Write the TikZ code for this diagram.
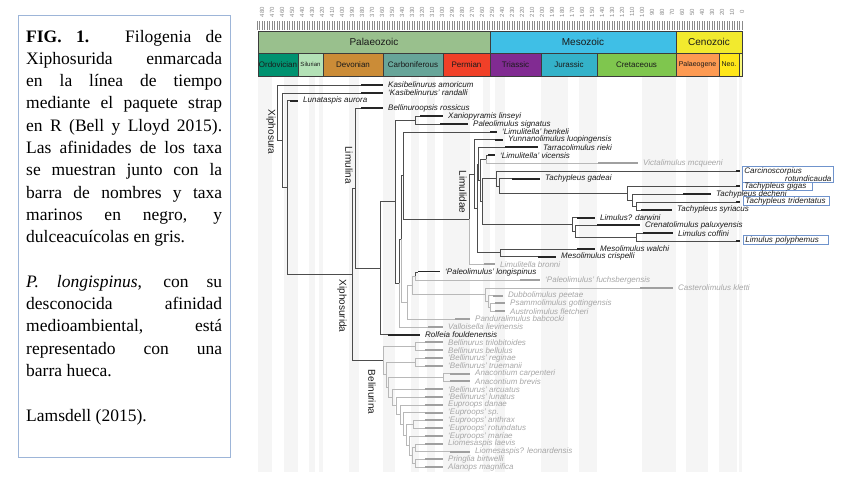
\documentclass[tikz,border=0pt]{standalone}
\usepackage{fontspec}
\setmainfont{Liberation Serif}
\setsansfont{Liberation Sans}
\usetikzlibrary{calc, positioning}

\begin{document}
\begin{tikzpicture}[
    x=1pt, y=-1pt,
    every node/.style={font=\sffamily},
    brm/.style={draw=branchdark, line width=0.6pt},
    brf/.style={draw=branchlight, line width=0.6pt},
    brh/.style={brm},
    barm/.style={draw=bardark, line width=2pt},
    barf/.style={draw=barlight, line width=2pt},
    barh/.style={draw=bardark, line width=0.5pt, double=white, double distance=1.3pt},
    lblm/.style={font=\sffamily\itshape\fontsize{8}{8}\selectfont, text=textdark, inner sep=0pt, anchor=west},
    lblf/.style={lblm, text=textlight},
    lblh/.style={lblm},
    extant/.style={lblm, draw=boxblue, line width=0.8pt, inner xsep=2pt, inner ysep=1pt, align=left},
    cladelbl/.style={font=\sffamily\fontsize{10}{10}\selectfont, text=textdark, rotate=-90, inner sep=0pt},
    band/.style={fill=bandgray},
    scaleline/.style={draw=scalegray, line width=0.5pt},
    eralbl/.style={font=\sffamily\fontsize{10}{10}\selectfont, text=textdark},
    ticklbl/.style={font=\sffamily\fontsize{6}{6}\selectfont, text=tickgray, rotate=90, inner sep=0pt},
    capframe/.style={draw=frameblue, line width=1pt, minimum width=212, minimum height=442, inner sep=0pt},
    captext/.style={font=\rmfamily\fontsize{17.5}{22.3}\selectfont, text width=196pt, align=justify, inner sep=0pt, anchor=north west}
]

% Colors
\definecolor{branchdark}{HTML}{4D4D4D}
\definecolor{branchlight}{HTML}{B8B8B8}
\definecolor{bardark}{HTML}{262626}
\definecolor{barlight}{HTML}{A0A0A0}
\definecolor{textdark}{HTML}{1A1A1A}
\definecolor{textlight}{HTML}{A6A6A6}
\definecolor{boxblue}{HTML}{6F93CC}
\definecolor{frameblue}{HTML}{9DB5D8}
\definecolor{bandgray}{HTML}{F5F5F5}
\definecolor{scalegray}{HTML}{3C3C3C}
\definecolor{tickgray}{HTML}{8A8A8A}

\definecolor{cPal}{HTML}{99C08D}
\definecolor{cMes}{HTML}{3FBFE6}
\definecolor{cCen}{HTML}{F2EA2E}
\definecolor{cOrd}{HTML}{009270}
\definecolor{cSil}{HTML}{B3E1B6}
\definecolor{cDev}{HTML}{CB8C37}
\definecolor{cCar}{HTML}{67A599}
\definecolor{cPer}{HTML}{F04028}
\definecolor{cTri}{HTML}{812B92}
\definecolor{cJur}{HTML}{34B2C9}
\definecolor{cCre}{HTML}{7FC64E}
\definecolor{cPg}{HTML}{FD9A52}
\definecolor{cNg}{HTML}{FFE619}
\definecolor{cQ}{HTML}{F9F97F}

\useasboundingbox (0,0) rectangle (848,477);

% Caption
\node[capframe] (frame) at (124,236) {};
\node[captext] (caption) at (26,29.7) {\parindent=0pt
\textbf{FIG. 1.} Filogenia de\linebreak
Xiphosurida enmarcada\linebreak
en la línea de tiempo\linebreak
mediante el paquete strap\linebreak
en R (Bell y Lloyd 2015).\linebreak
Las afinidades de los taxa\linebreak
se muestran junto con la\linebreak
barra de nombres y taxa\linebreak
marinos en negro, y\linebreak
dulceacuícolas en gris.\par\vspace{22.3pt}
\textit{P. longispinus}, con su\linebreak
desconocida afinidad\linebreak
medioambiental, está\linebreak
representado con una\linebreak
barra hueca.\par\vspace{22.3pt}
Lamsdell (2015).};

% Epoch shading
\foreach \a/\b in {258/272, 284/298, 309/315, 319/323, 349/359, 383/395, 411/419,
    427/435, 443/470, 483/490, 495/505, 541/568, 579/597, 642/676, 686/708, 719/737, 739/742}
  \fill[band] (\a,77) rectangle (\b,472);

% Time scale
\foreach \t in {0,2.5,...,485}
  \draw[tickgray, line width=0.4pt] ({742-\t},21) -- ({742-\t},30);
\foreach \t in {0,10,...,480}
  \node[ticklbl] at ({742-\t},12) {\t};

\foreach \a/\b/\t/\c in {258/490/Palaeozoic/cPal, 490/676/Mesozoic/cMes, 676/742/Cenozoic/cCen}{
  \draw[scaleline, fill=\c] (\a,31) rectangle (\b,53);
  \node[eralbl] at ({(\a+\b)/2},42) {\t};
}
\foreach \a/\b/\t/\c/\s in {258/298/Ordovician/cOrd/8, 298/323/Silurian/cSil/6,
    323/383/Devonian/cDev/8, 383/443/Carboniferous/cCar/8, 443/490/Permian/cPer/8,
    490/541/Triassic/cTri/8, 541/597/Jurassic/cJur/8, 597/676/Cretaceous/cCre/8,
    676/719/Palaeogene/cPg/7, 719/739/Neo./cNg/7}{
  \draw[scaleline, fill=\c] (\a,53) rectangle (\b,76);
  \node[font=\sffamily\fontsize{\s}{\s}\selectfont, text=textdark] at ({(\a+\b)/2},64.5) {\t};
}
\draw[scaleline, fill=cQ] (739,53) rectangle (742,76);

% Taxa: name, row, first, last, label, kind
\def\taxon#1#2#3#4#5#6{%
  \coordinate (#1) at ({#3},{85+7.8*(#2-1)});
  \draw[bar#6] (#1) -- ({#4},{85+7.8*(#2-1)}) coordinate (#1e);
  \node[lbl#6] (#1l) at ([xshift=5pt]#1e) {#5};
}
% Clades: name, x, upper child, lower child, branch kinds
\def\clade#1#2#3#4#5#6{%
  \path ($(#3)!.5!(#4)$) coordinate (#1y) ({#2},0) coordinate (#1x);
  \coordinate (#1) at (#1x |- #1y);
  \draw[br#5] (#1) |- (#3);
  \draw[br#6] (#1) |- (#4);
}

\taxon{amor}{1}{361}{383}{Kasibelinurus amoricum}{m}
\taxon{rand}{2}{361}{383}{‘Kasibelinurus’ randalli}{m}
\taxon{luna}{3}{290}{298}{Lunataspis aurora}{m}
\taxon{bros}{4}{361}{383}{Bellinuroopsis rossicus}{m}
\taxon{xani}{5}{420}{443}{Xaniopyramis linseyi}{m}
\taxon{psig}{6}{440}{468}{Paleolimulus signatus}{m}
\taxon{lhen}{7}{490}{497}{‘Limulitella’ henkeli}{m}
\taxon{yunn}{8}{495}{503}{Yunnanolimulus luopingensis}{m}
\taxon{tarr}{9}{505}{538}{Tarracolimulus rieki}{m}
\taxon{lvic}{10}{488}{495}{‘Limulitella’ vicensis}{m}
\taxon{vict}{11}{598}{638}{Victalimulus mcqueeni}{f}
\taxon{carc}{12}{736}{740}{}{m}
\taxon{tgad}{13}{512}{540}{Tachypleus gadeai}{m}
\taxon{tgig}{14}{736}{740}{}{m}
\taxon{ttri}{16}{736}{740}{}{m}
\taxon{tsyr}{17}{641}{672}{Tachypleus syriacus}{m}
\taxon{ldar}{18}{577}{595}{Limulus? darwini}{m}
\taxon{cren}{19}{597}{640}{Crenatolimulus paluxyensis}{m}
\taxon{lcof}{20}{643}{673}{Limulus coffini}{m}
\taxon{lpol}{21}{736}{740}{}{m}
\taxon{mwal}{22}{577}{595}{Mesolimulus walchi}{m}
\taxon{mcri}{23}{538}{556}{Mesolimulus crispelli}{m}
\taxon{lbro}{24}{484}{495}{Limulitella bronni}{f}
\taxon{plon}{25}{418}{440}{‘Paleolimulus’ longispinus}{h}
\taxon{pfuc}{26}{520}{540}{‘Paleolimulus’ fuchsbergensis}{f}
\taxon{cast}{27}{640}{673}{Casterolimulus kletti}{f}
\taxon{dubb}{28}{493}{503}{Dubbolimulus peetae}{f}
\taxon{psam}{29}{495}{505}{Psammolimulus gottingensis}{f}
\taxon{aust}{30}{495}{505}{Austrolimulus fletcheri}{f}
\taxon{pand}{31}{455}{470}{Panduralimulus babcocki}{f}
\taxon{vall}{32}{428}{443}{Valloisella lievinensis}{f}
\taxon{rolf}{33}{388}{420}{Rolfeia fouldenensis}{m}
\taxon{btri}{34}{425}{443}{Bellinurus trilobitoides}{f}
\taxon{bbel}{35}{425}{443}{Bellinurus bellulus}{f}
\taxon{breg}{36}{425}{443}{‘Bellinurus’ reginae}{f}
\taxon{btru}{37}{425}{443}{‘Bellinurus’ truemanii}{f}
\taxon{acar}{38}{450}{470}{Anacontium carpenteri}{f}
\taxon{abre}{39}{450}{470}{Anacontium brevis}{f}
\taxon{barc}{40}{425}{443}{‘Bellinurus’ arcuatus}{f}
\taxon{blun}{41}{425}{443}{‘Bellinurus’ lunatus}{f}
\taxon{edan}{42}{425}{443}{Euproops danae}{f}
\taxon{esp}{43}{425}{443}{‘Euproops’ sp.}{f}
\taxon{eant}{44}{425}{443}{‘Euproops’ anthrax}{f}
\taxon{erot}{45}{425}{443}{‘Euproops’ rotundatus}{f}
\taxon{emar}{46}{425}{443}{‘Euproops’ mariae}{f}
\taxon{llae}{47}{425}{443}{Liomesaspis laevis}{f}
\taxon{lleo}{48}{450}{470}{Liomesaspis? leonardensis}{f}
\taxon{prin}{49}{425}{443}{Pringlia birtwelli}{f}
\taxon{alan}{50}{425}{443}{Alanops magnifica}{f}

% Living species in boxes
\node[extant, anchor=north west, text width=87pt] (carcl) at ([xshift=2pt,yshift=4.8pt]carce)
  {Carcinoscorpius\\\hspace*{\fill}rotundicauda};
\node[extant, inner ysep=0pt, text width=66pt] (tgigl) at ([xshift=2pt]tgige) {Tachypleus gigas};
\node[extant, text width=82pt] (ttril) at ([xshift=3pt,yshift=1pt]ttrie) {Tachypleus tridentatus};
\node[extant, text width=81pt] (lpoll) at ([xshift=3pt,yshift=1pt]lpole) {Limulus polyphemus};
\taxon{tdec}{15}{683}{711}{Tachypleus decheni}{m}

% Limulidae
\clade{nTc5}{636}{ttri}{tsyr}{m}{m}
\clade{nTc4}{632}{tdec}{nTc5}{m}{m}
\clade{nTc3}{627}{tgig}{nTc4}{m}{m}
\clade{nTc2}{499}{tgad}{nTc3}{m}{m}
\clade{nTc1}{496}{carc}{nTc2}{m}{m}
\clade{nLc}{636}{lcof}{lpol}{m}{m}
\clade{nCr}{575}{cren}{nLc}{m}{m}
\clade{nLm}{572}{ldar}{nCr}{m}{m}
\clade{nL5}{482}{nTc1}{nLm}{m}{m}
\clade{nVc}{486}{lvic}{vict}{m}{f}
\clade{nL4}{480}{nVc}{nL5}{m}{m}
\clade{nL3}{478}{tarr}{nL4}{m}{m}
\clade{nMs}{500}{mwal}{mcri}{m}{m}
\clade{nL2}{477}{nL3}{nMs}{m}{m}
\clade{nL1}{474}{yunn}{nL2}{m}{m}
\clade{nLi}{469}{nL1}{lbro}{m}{f}
\clade{nHe}{403}{lhen}{nLi}{m}{m}

% Austrolimulidae and the rest of Limulina
\clade{nPs}{490}{psam}{aust}{f}{f}
\clade{nDu}{488}{dubb}{nPs}{f}{f}
\clade{nCa}{485}{cast}{nDu}{f}{f}
\clade{nLo}{415}{plon}{pfuc}{h}{f}
\clade{nRl}{412}{nLo}{nCa}{f}{f}
\clade{nAu}{407}{nRl}{pand}{f}{f}
\clade{nLA}{401}{nHe}{nAu}{m}{f}
\clade{nVa}{399}{nLA}{vall}{m}{f}
\clade{nPa}{415}{xani}{psig}{m}{m}
\clade{nH}{395}{nPa}{nVa}{m}{m}
\clade{nG}{380}{nH}{rolf}{m}{m}
\clade{nLimulina}{355}{bros}{nG}{m}{m}

% Belinurina
\clade{nB1}{415}{btri}{bbel}{f}{f}
\clade{nB2}{415}{breg}{btru}{f}{f}
\clade{nAn}{443}{acar}{abre}{f}{f}
\clade{nPA}{415}{prin}{alan}{f}{f}
\clade{nLio}{415}{llae}{lleo}{f}{f}
\clade{nX7}{412}{nLio}{nPA}{f}{f}
\clade{nX6}{409}{emar}{nX7}{f}{f}
\clade{nRo}{413}{eant}{erot}{f}{f}
\clade{nX5}{406}{nRo}{nX6}{f}{f}
\clade{nX4}{403}{esp}{nX5}{f}{f}
\clade{nX3}{400}{edan}{nX4}{f}{f}
\clade{nX2}{396}{blun}{nX3}{f}{f}
\clade{nX1}{392}{barc}{nX2}{f}{f}
\clade{nR2}{388}{nAn}{nX1}{f}{f}
\clade{nRest}{386}{nB2}{nR2}{f}{f}
\clade{nBel}{383}{nB1}{nRest}{f}{f}

% Root
\clade{nXida}{352}{nLimulina}{nBel}{m}{m}
\clade{nC}{287}{luna}{nXida}{m}{m}
\clade{nB}{282}{rand}{nC}{m}{m}
\clade{nA}{277}{amor}{nB}{m}{m}

% Clade names
\node[cladelbl] (xiphosura) at (271,132) {Xiphosura};
\node[cladelbl] (limulina) at (349,165) {Limulina};
\node[cladelbl] (limulidae) at (463,192) {Limulidae};
\node[cladelbl] (xiphosurida) at (342,306) {Xiphosurida};
\node[cladelbl] (belinurina) at (372,392) {Belinurina};

\end{tikzpicture}
\end{document}
